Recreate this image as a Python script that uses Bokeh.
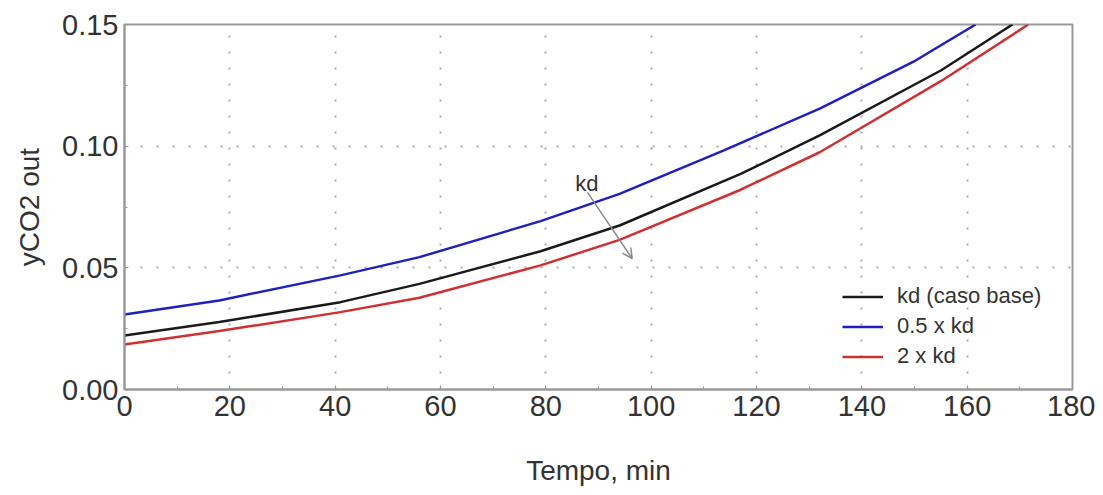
from bokeh.plotting import figure
from bokeh.models import (Range1d, Legend, LegendItem, Arrow, OpenHead, Label,
                          PrintfTickFormatter, FixedTicker)
from bokeh.embed import file_html
from bokeh.resources import INLINE

# Data
t_base = [0, 18, 41, 56, 79, 94, 117, 132, 155, 168.6]
y_base = [0.0222, 0.0277, 0.0359, 0.0434, 0.0568, 0.0674, 0.0886, 0.1044, 0.1311, 0.150]

t_half = [0, 18, 41, 56, 79, 94, 113.7, 132, 150.2, 161.6]
y_half = [0.0308, 0.0366, 0.0469, 0.0544, 0.0692, 0.0804, 0.0982, 0.1154, 0.1352, 0.150]

t_double = [0, 18, 41, 56, 79, 94, 117, 132, 155, 171.6]
y_double = [0.0185, 0.0240, 0.0318, 0.0377, 0.0510, 0.0615, 0.0821, 0.0975, 0.1267, 0.150]

labels = ["kd (caso base)", "0.5 x kd", "2 x kd"]
colors = ["#1a1a1a", "#2020c0", "#d03030"]

x_ticks = [0, 20, 40, 60, 80, 100, 120, 140, 160, 180]
y_ticks = [0.0, 0.05, 0.10, 0.15]

FONT = "Liberation Sans"

p = figure(width=1095, height=495, output_backend="svg", toolbar_location=None,
           x_range=Range1d(0, 180), y_range=Range1d(0, 0.15),
           min_border_left=124, min_border_right=23, min_border_top=24,
           min_border_bottom=106)

p.outline_line_color = "#999999"
p.outline_line_width = 2

for ax in (p.xaxis[0], p.yaxis[0]):
    ax.axis_line_color = "#999999"
    ax.axis_line_width = 2
    ax.major_tick_line_color = "#999999"
    ax.minor_tick_line_color = "#999999"
    ax.major_tick_in = 4
    ax.major_tick_out = 0
    ax.minor_tick_in = 3
    ax.minor_tick_out = 0
    ax.major_label_text_font = FONT
    ax.major_label_text_font_size = "29px"
    ax.major_label_text_color = "#333333"
    ax.axis_label_text_font = FONT
    ax.axis_label_text_font_size = "28px"
    ax.axis_label_text_font_style = "normal"
    ax.axis_label_text_color = "#333333"

p.xaxis.ticker = FixedTicker(ticks=x_ticks, minor_ticks=list(range(10, 180, 20)))
p.yaxis.ticker = FixedTicker(ticks=y_ticks, minor_ticks=[0.025, 0.075, 0.125])
p.yaxis.formatter = PrintfTickFormatter(format="%.2f")
p.xaxis.axis_label = "Tempo, min"
p.yaxis.axis_label = "yCO2 out"
p.xaxis.major_label_standoff = 6
p.xaxis.axis_label_standoff = 36
p.yaxis.major_label_standoff = 6
p.yaxis.axis_label_standoff = 14

p.xgrid.ticker = FixedTicker(ticks=x_ticks)
p.ygrid.ticker = FixedTicker(ticks=y_ticks)
for g in (p.xgrid[0], p.ygrid[0]):
    g.grid_line_color = "#aaaaaa"
    g.grid_line_dash = "2 14"
    g.grid_line_width = 2

r1 = p.line(t_base, y_base, line_color=colors[0], line_width=2.5)
r2 = p.line(t_half, y_half, line_color=colors[1], line_width=2.5)
r3 = p.line(t_double, y_double, line_color=colors[2], line_width=2.5)

legend = Legend(items=[LegendItem(label=labels[0], renderers=[r1]),
                       LegendItem(label=labels[1], renderers=[r2]),
                       LegendItem(label=labels[2], renderers=[r3])],
                location=(718, 20), border_line_color=None,
                background_fill_alpha=0, padding=5, margin=0,
                glyph_width=41, glyph_height=25, label_height=25,
                spacing=4, label_standoff=14,
                label_text_font=FONT, label_text_font_size="22px",
                label_text_color="#333333")
p.add_layout(legend)

p.add_layout(Arrow(x_start=87.9, y_start=0.081, x_end=96.4, y_end=0.0538,
                   line_color="#888888", line_width=1.5,
                   end=OpenHead(size=10, line_color="#888888", line_width=1.5)))
p.add_layout(Label(x=85.6, y=0.0847, text="kd", text_font=FONT,
                   text_font_size="22px", text_color="#333333",
                   text_baseline="middle"))

open("out.html", "w").write(file_html(p, INLINE))
